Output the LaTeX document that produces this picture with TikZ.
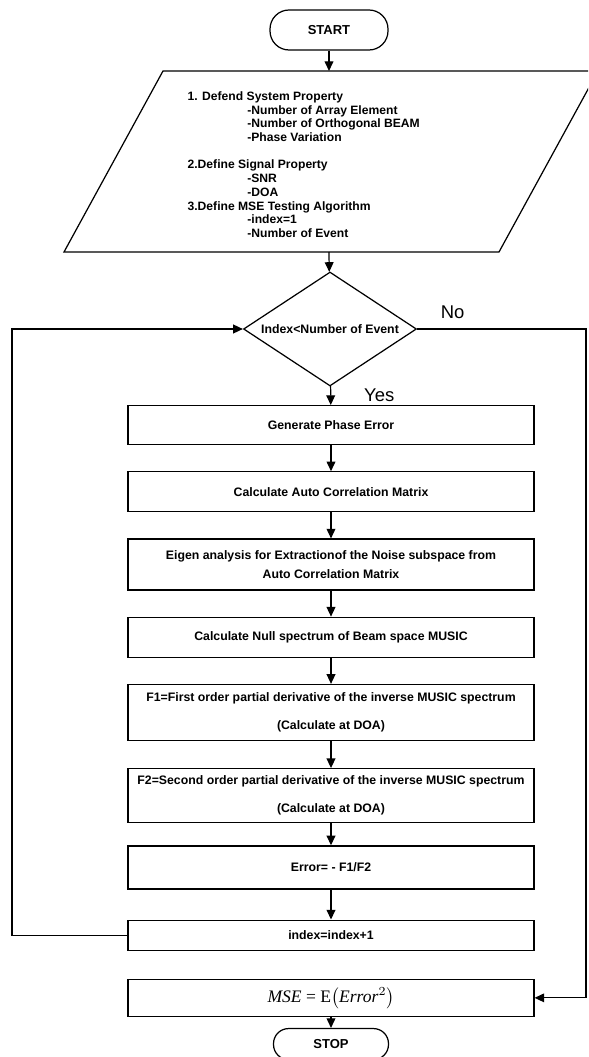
\documentclass[tikz,border=0pt]{standalone}
\usepackage{fontspec}
\setmainfont{Liberation Sans}
\newfontfamily\serif{Liberation Serif}
\usepackage{amsmath}
\usetikzlibrary{shapes.geometric,positioning,arrows.meta}

\begin{document}
\begin{tikzpicture}[x=0.02cm, y=-0.02cm, node distance=0.5cm, line width=0.7pt,
    >={Triangle[length=5.5pt,width=5pt]},
    term/.style={draw, rounded corners=0.38cm, minimum width=2.36cm, minimum height=0.8cm, font=\fontsize{7.4}{8.5}\selectfont\bfseries},
    proc/.style={draw, minimum width=8.12cm, align=center, inner sep=2pt, font=\fontsize{7}{8.4}\selectfont\bfseries},
    test/.style={draw, diamond, aspect=1.52, minimum width=3.46cm, minimum height=2.28cm, inner sep=0pt, font=\fontsize{7}{8.4}\selectfont\bfseries},
    answer/.style={font=\fontsize{10.5}{12}\selectfont}]
    \useasboundingbox (0,0) rectangle (588,1057);
    \clip (0,0) rectangle (588,1057);

    \node[term] (start) at (329,30) {START};

    % input block
    \draw (163,71) -- (598,71) -- (499,252) -- (64,252) -- cycle;
    \coordinate (inTop) at (329,71);
    \coordinate (inBot) at (329,252);
    \node[anchor=north west, align=left, inner sep=0pt, font=\fontsize{6.9}{7.8}\selectfont\bfseries] (props) at (187,91) {%
        1. Defend System Property\\
        \hspace{34pt}-Number of Array Element\\
        \hspace{34pt}-Number of Orthogonal BEAM\\
        \hspace{34pt}-Phase Variation\\[7.8pt]
        2.Define Signal Property\\
        \hspace{34pt}-SNR\\
        \hspace{34pt}-DOA\\
        3.Define MSE Testing Algorithm\\
        \hspace{34pt}-index=1\\
        \hspace{34pt}-Number of Event};

    \node[test] (test) at (330,329) {Index<Number of Event};

    \node[proc, minimum height=0.78cm, anchor=north] (gen) at (331,405) {Generate Phase Error};
    \node[proc, minimum height=0.80cm, below=0.52cm of gen] (acm) {Calculate Auto Correlation Matrix};
    \node[proc, minimum height=1.02cm, below=0.52cm of acm] (eig) {Eigen analysis for Extractionof the Noise subspace from\\[2.8pt]Auto Correlation Matrix};
    \node[proc, minimum height=0.80cm, below=0.52cm of eig] (null) {Calculate Null spectrum of Beam space MUSIC};
    \node[proc, minimum height=1.12cm, below=0.52cm of null] (fone) {F1=First order partial derivative of the inverse MUSIC spectrum\\[7.4pt](Calculate at DOA)};
    \node[proc, minimum height=1.08cm, below=0.54cm of fone] (ftwo) {F2=Second order partial derivative of the inverse MUSIC spectrum\\[7.4pt](Calculate at DOA)};
    \node[proc, minimum height=0.86cm, below=0.44cm of ftwo] (err) {Error= - F1/F2};
    \node[proc, minimum height=0.60cm, below=0.60cm of err] (idx) {index=index+1};
    \node[proc, minimum height=0.74cm, below=0.56cm of idx, font=\fontsize{10}{12}\selectfont\serif] (mse) {\textit{MSE} = E$\left(\text{\textit{Error}}^{2}\right)$};
    \node[term, below=0.22cm of mse, minimum width=2.3cm, minimum height=0.62cm, rounded corners=0.3cm] (stop) {STOP};

    \coordinate (lft) at (12,0);
    \coordinate (rgt) at (586,0);

    \path[->]
        (start) edge (inTop)
        (inBot) edge (test)
        (test) edge node[answer, anchor=west, xshift=0.54cm] {Yes} (gen)
        (gen) edge (acm)
        (acm) edge (eig)
        (eig) edge (null)
        (null) edge (fone)
        (fone) edge (ftwo)
        (ftwo) edge (err)
        (err) edge (idx)
        (mse) edge (stop);

    \draw[->] (idx.west) -- (idx.west -| lft) |- (test.west);
    \draw[->] (test.east) -- node[answer, pos=0.21, above=2pt] {No} (test.east -| rgt) |- (mse.east);
\end{tikzpicture}
\end{document}
